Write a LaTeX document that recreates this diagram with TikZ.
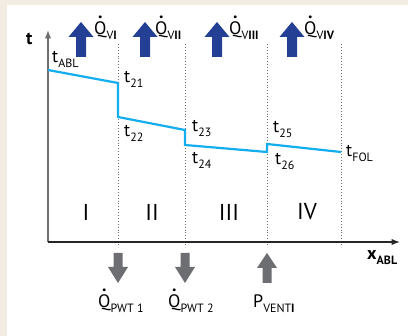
\documentclass[tikz,border=0pt]{standalone}
\usepackage{fontspec}
\setmainfont{PT Sans}
\usetikzlibrary{arrows.meta,positioning}
\definecolor{PageBeige}{RGB}{243,236,226}
\definecolor{FlowBlue}{RGB}{36,64,148}
\definecolor{TempCyan}{RGB}{20,174,238}
\definecolor{LossGray}{RGB}{109,110,113}
\newcommand\lowsub[1]{\raisebox{-5pt}{\fontsize{12}{12}\selectfont #1}}
\newcommand\dotQ{\leavevmode\setbox0\hbox{Q}%
  \rlap{\hbox to\wd0{\hss\raisebox{0.92em}{\textbf{.}}\hss}}Q}

\begin{document}
\begin{tikzpicture}[x=1pt,y=-1pt,>=Latex,
    lbl/.style={font=\fontsize{18}{20}\selectfont,inner sep=0pt,anchor=base west},
    zone/.style={font=\fontsize{23}{25}\selectfont,inner sep=0pt},
    sep/.style={dotted,LossGray,line width=0.9pt}]
  \fill[PageBeige] (0,0) rectangle (408,336);
  \fill[white] (7,5) rectangle (408,336);
  \useasboundingbox (0,0) rectangle (408,336);
  % zone borders
  \foreach \xs in {118,185,267,341}
    \draw[sep] (\xs,44)--(\xs,247);
  % axes
  \coordinate (O) at (48,242);
  \draw[->,LossGray,line width=1.2pt] (O)--(48,30);
  \draw[->,black!85,line width=1.2pt] (O)--(400,242);
  \node[lbl,font=\fontsize{18}{20}\selectfont\bfseries] (tax) at (26,45) {t};
  \node[lbl,font=\fontsize{18}{20}\selectfont\bfseries] (xax) at (367,260) {x\lowsub{ABL}};
  % temperature course
  \draw[TempCyan,line width=2.2pt] (48,70)--(118,83)--(118,117)--(185,130)--(185,145)
    --(267,152)--(267,144)--(341,152);
  \node[lbl] (tabl) at (52,63) {t\lowsub{ABL}};
  \node[lbl] (t21) at (124,83) {t\lowsub{21}};
  \node[lbl] (t22) at (124,137) {t\lowsub{22}};
  \node[lbl] (t23) at (192,132) {t\lowsub{23}};
  \node[lbl] (t24) at (192,164) {t\lowsub{24}};
  \node[lbl] (t25) at (273,133) {t\lowsub{25}};
  \node[lbl] (t26) at (275,165) {t\lowsub{26}};
  \node[lbl] (tfol) at (346,157) {t\lowsub{FOL}};
  % zones
  \node[zone] (z1) at (86,212) {I};
  \node[zone] (z2) at (152,212) {II};
  \node[zone] (z3) at (229,212) {III};
  \node[zone] (z4) at (307,212) {IV};
  % heat gains
  \foreach \xa in {81,145,217,292}
    \fill[FlowBlue] (\xa-5,57)--(\xa-5,37)--(\xa-12.5,37)--(\xa,22)
      --(\xa+12.5,37)--(\xa+5,37)--(\xa+5,57)--cycle;
  \node[lbl] (qv1) at (94,35) {\dotQ\lowsub{V\textbf{I}}};
  \node[lbl] (qv2) at (155,35) {\dotQ\lowsub{V\textbf{II}}};
  \node[lbl] (qv3) at (229,35) {\dotQ\lowsub{V\textbf{III}}};
  \node[lbl] (qv4) at (304,35) {\dotQ\lowsub{V\textbf{IV}}};
  % heat exchangers and fan
  \foreach \xa in {118,185}
    \fill[LossGray] (\xa-4.5,253)--(\xa+4.5,253)--(\xa+4.5,267)--(\xa+10,267)
      --(\xa,283)--(\xa-10,267)--(\xa-4.5,267)--cycle;
  \fill[LossGray] (262.5,283)--(271.5,283)--(271.5,268)--(277,268)
    --(267,253)--(257,268)--(262.5,268)--cycle;
  \node[lbl] (qp1) at (98,308) {\dotQ\lowsub{PWT 1}};
  \node[lbl] (qp2) at (168,308) {\dotQ\lowsub{PWT 2}};
  \node[lbl] (pv) at (253,308) {P\lowsub{VENT\textbf{I}}};
\end{tikzpicture}
\end{document}
